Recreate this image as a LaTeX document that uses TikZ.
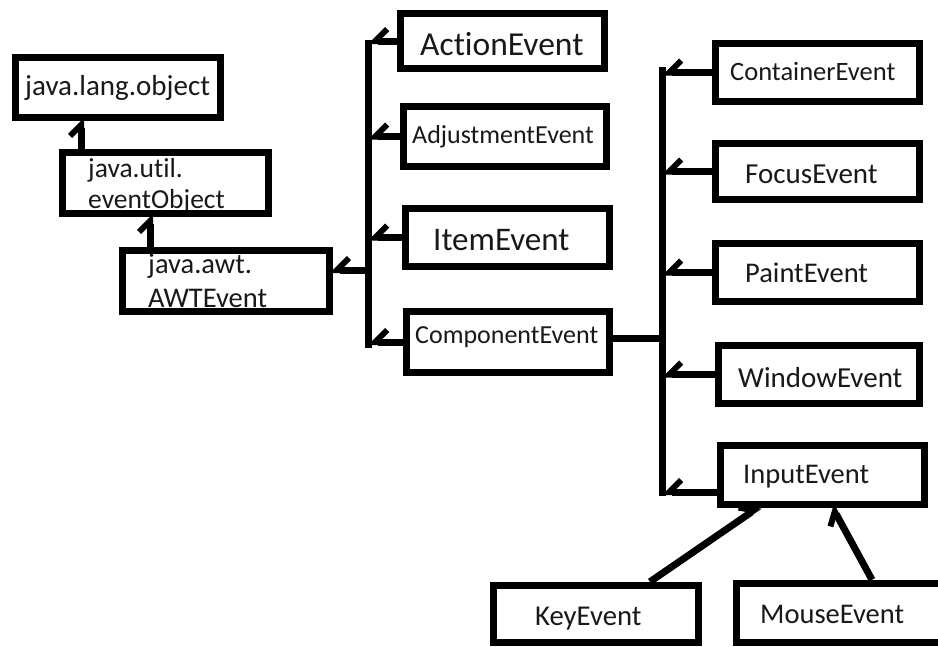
\documentclass[tikz,border=0pt]{standalone}
\usepackage{fontspec}
\setmainfont{Carlito}[Ligatures={NoCommon,NoRare,NoContextual}]
\usetikzlibrary{arrows.meta}
\begin{document}
\begin{tikzpicture}[x=1pt,y=-1pt,
  box/.style={draw=black, line width=7.5pt, inner sep=0pt},
  lbl/.style={anchor=base west, inner sep=0pt, text=black!90},
  conn/.style={line width=7pt, draw=black},
  tipL/.style={-{Straight Barb[harpoon,length=11pt,width=22pt,line width=6pt]}},
  tipR/.style={-{Straight Barb[harpoon,swap,length=12pt,width=24pt,line width=6pt]}}
]
\useasboundingbox (0,0) rectangle (938,646);
\clip (0,0) rectangle (938,646);
\fill[white] (0,0) rectangle (938,646);

% labels
\node[lbl,font=\fontsize{29}{34}\selectfont] (tlang) at (25,95) {java.lang.object};
\node[lbl,font=\fontsize{27.5}{33}\selectfont] (tutila) at (88,177) {java.util.};
\node[lbl,font=\fontsize{27.5}{33}\selectfont] (tutilb) at (88,208) {eventObject};
\node[lbl,font=\fontsize{28.5}{34}\selectfont] (tawta) at (148,273) {java.awt.};
\node[lbl,font=\fontsize{28.5}{34}\selectfont] (tawtb) at (148,307) {AWTEvent};
\node[lbl,font=\fontsize{33.5}{40}\selectfont] (taction) at (420,55) {ActionEvent};
\node[lbl,font=\fontsize{26}{31}\selectfont] (tadjust) at (412,143) {AdjustmentEvent};
\node[lbl,font=\fontsize{33}{40}\selectfont] (titem) at (433,250) {ItemEvent};
\node[lbl,font=\fontsize{26}{31}\selectfont] (tcomp) at (415,343) {ComponentEvent};
\node[lbl,font=\fontsize{26.5}{31}\selectfont] (tcont) at (730,80) {ContainerEvent};
\node[lbl,font=\fontsize{29}{34}\selectfont] (tfocus) at (745,183) {FocusEvent};
\node[lbl,font=\fontsize{28.5}{34}\selectfont] (tpaint) at (745,282) {PaintEvent};
\node[lbl,font=\fontsize{29}{34}\selectfont] (twin) at (738,387) {WindowEvent};
\node[lbl,font=\fontsize{28.5}{34}\selectfont] (tinput) at (743,483) {InputEvent};
\node[lbl,font=\fontsize{28.7}{34}\selectfont] (tkey) at (535,625) {KeyEvent};
\node[lbl,font=\fontsize{28.5}{34}\selectfont] (tmouse) at (760,623) {MouseEvent};

% boxes
\node[box,minimum width=205,minimum height=60] (lang) at (118,87.5) {};
\node[box,minimum width=206,minimum height=61] (util) at (165.5,183) {};
\node[box,minimum width=207,minimum height=61] (awt) at (226,281) {};
\node[box,minimum width=204,minimum height=55] (action) at (502.5,41) {};
\node[box,minimum width=203,minimum height=60] (adjust) at (505,136.5) {};
\node[box,minimum width=204,minimum height=58] (item) at (507.5,237.5) {};
\node[box,minimum width=203,minimum height=61] (comp) at (508,342) {};
\node[box,minimum width=204,minimum height=58] (cont) at (817.5,72.5) {};
\node[box,minimum width=204,minimum height=56] (focus) at (817.5,171.5) {};
\node[box,minimum width=204,minimum height=58] (paint) at (817.5,272.5) {};
\node[box,minimum width=201,minimum height=58] (win) at (819,374.5) {};
\node[box,minimum width=204,minimum height=59] (input) at (822.5,475) {};
\node[box,minimum width=205,minimum height=57] (key) at (596,614) {};
\node[box,minimum width=220,minimum height=59] (mouse) at (846.5,613) {};

% bus coordinates
\coordinate (b1t) at (368,40);
\coordinate (b1b) at (368,348);
\coordinate (b1awt) at (368,270);
\coordinate (b2t) at (662,67);
\coordinate (b2b) at (662,496);
\coordinate (b2comp) at (662,338);
\coordinate (b2in) at (662,492);
\coordinate (xl) at (81,0);
\coordinate (xu) at (150,0);

% connectors
\draw[conn,tipL,shorten >=-3.5pt] (util.north -| xl) -- (lang.south -| xl);
\draw[conn,tipL,shorten >=-3.5pt] (awt.north -| xu) -- (util.south -| xu);
\draw[conn] (b1t) -- (b1b);
\draw[conn,tipR,shorten >=-3.5pt] (b1awt) -- (awt.east |- b1awt);
\draw[conn,tipR] (action.west) -- (action.west -| b1t);
\draw[conn,tipR] (adjust.west) -- (adjust.west -| b1t);
\draw[conn,tipR] (item.west) -- (item.west -| b1t);
\draw[conn,tipR] (comp.west) -- (comp.west -| b1t);
\draw[conn] (comp.east |- b2comp) -- (b2comp);
\draw[conn] (b2t) -- (b2b);
\draw[conn,tipR] (cont.west) -- (cont.west -| b2t);
\draw[conn,tipR] (focus.west) -- (focus.west -| b2t);
\draw[conn,tipR] (paint.west) -- (paint.west -| b2t);
\draw[conn,tipR] (win.west) -- (win.west -| b2t);
\draw[conn,tipR] (input.west |- b2in) -- (b2in);
\draw[conn,tipL,shorten >=-3.5pt] ([xshift=54pt]key.north) -- ([xshift=-65.5pt]input.south);
\draw[conn,tipL,shorten >=-3.5pt] ([xshift=25.5pt]mouse.north) -- ([xshift=10.5pt]input.south);
\end{tikzpicture}
\end{document}
